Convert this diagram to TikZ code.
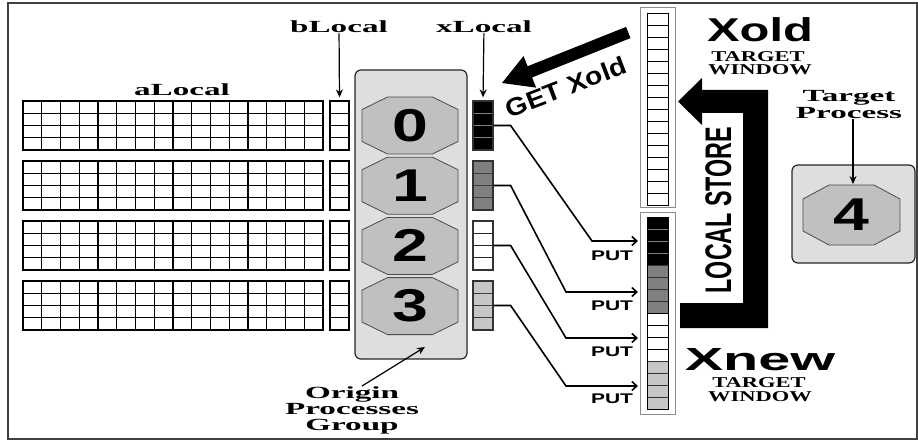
\documentclass[tikz,border=0pt]{standalone}
\usepackage{fontspec}
\setmainfont{Liberation Serif}
\setsansfont{Liberation Sans}
\usetikzlibrary{arrows.meta}
\usetikzlibrary{positioning}

\definecolor{boxgray}{RGB}{221,223,223}
\definecolor{octgray}{RGB}{192,192,192}
\definecolor{midgray}{RGB}{128,128,128}
\definecolor{cellgray}{RGB}{198,198,198}

\newcommand{\lbl}[1]{\scalebox{1.95}[1]{#1}}
\newcommand{\wlbl}[1]{\scalebox{1.5}[1]{#1}}

\begin{document}
\begin{tikzpicture}[x=1pt,y=-1pt,
  serif/.style={font=\fontsize{17}{17}\selectfont\bfseries,inner sep=0pt,anchor=base},
  small/.style={font=\fontsize{15}{15}\selectfont\bfseries,inner sep=0pt,anchor=base},
  cell/.style={draw=black,line width=1.25pt},
  col/.style={draw=black,line width=1.25pt,inner sep=0pt,minimum height=49pt},
  winframe/.style={draw=black!45,line width=1pt,inner sep=0pt,minimum width=35pt},
  grpbox/.style={draw=black!85,fill=boxgray,line width=1.2pt,rounded corners=6pt,inner sep=0pt},
  octo/.style={draw=black!70,fill=octgray,line width=0.8pt},
  digit/.style={font=\sffamily\bfseries\fontsize{46}{46}\selectfont,inner sep=0pt},
  ptr/.style={line width=1.2pt,-{Stealth[length=8pt,width=7pt]}},
  putline/.style={line width=1.6pt,-{Straight Barb[length=5pt,width=9pt]}},
  putlbl/.style={font=\sffamily\bfseries\fontsize{14}{14}\selectfont,inner sep=0pt,anchor=base}]
\useasboundingbox (0,0) rectangle (918,441);
\draw[line width=1.4pt,black!75] (8,3) rectangle (917,439);

% aLocal and bLocal
\foreach \i/\yt in {0/101,1/161,2/221,3/281}{
  \draw[cell] (23,\yt) rectangle (323,\yt+49);
  \foreach \cc in {1,...,15} \draw[cell] (23+18.75*\cc,\yt) -- ++(0,49);
  \foreach \rr in {1,2,3} \draw[cell] (23,\yt+12.25*\rr) -- ++(300,0);
  \node[col,minimum width=19pt] (b\i) at (339.5,\yt+24.5) {};
  \foreach \rr in {1,2,3} \draw[cell] (330,\yt+12.25*\rr) -- ++(19,0);
}
\node[serif] (alabel) at (182,96) {\lbl{aLocal}};
\node[serif] (blabel) at (339,33) {\lbl{bLocal}};
\draw[ptr,shorten >=3pt] (blabel) -- (b0.north);

% origin group
\node[grpbox,minimum width=112pt,minimum height=289pt] (grp) at (411,214.5) {};
\foreach \d/\yc in {0/125.5,1/185.7,2/245.9,3/306.1}{
  \begin{scope}[shift={(410,\yc)}]
  \draw[octo] (-22.5,-28.5) -- (22.5,-28.5) -- (48,-16) -- (48,16) -- (22.5,28.5) -- (-22.5,28.5) -- (-48,16) -- (-48,-16) -- cycle;
  \node[digit] (o\d) at (0,0) {\scalebox{1.4}[1]{\d}};
  \end{scope}
}
\node[serif] (org1) at (352,398) {\lbl{Origin}};
\node[serif] (org2) at (352,414) {\lbl{Processes}};
\node[serif] (org3) at (352,430) {\lbl{Group}};
\coordinate (gtip) at (425,347);
\draw[ptr] ([xshift=10pt]org1.north) -- (gtip);

% xLocal
\foreach \i/\yt/\fc/\sc in {0/101/black/gray,1/161/midgray/black!75,2/221/white/black!85,3/281/cellgray/black!75}{
  \node[col,minimum width=20pt,fill=\fc,draw=black!80] (x\i) at (483,\yt+24.5) {};
  \foreach \rr in {1,2,3} \draw[line width=1pt,draw=\sc] (473.6,\yt+12.25*\rr) -- ++(18.8,0);
}
\node[serif] (xlabel) at (484,33) {\lbl{xLocal}};
\draw[ptr,shorten >=3pt] (xlabel) -- (x0.north);

% windows
\node[winframe,minimum height=199pt] (xold) at (657.5,107.5) {};
\foreach \k in {0,...,15} \draw[cell,line width=0.9pt] (647,13+12*\k) rectangle ++(21,12);
\node[winframe,minimum height=202pt] (xnew) at (657.5,313) {};
\foreach \g/\fc/\sc in {0/black/gray,1/midgray/black!80,2/white/black,3/cellgray/black!80}
  \foreach \k in {0,...,3} \draw[line width=0.9pt,draw=\sc,fill=\fc] (647,217+48*\g+12*\k) rectangle ++(21,12);
\draw[line width=0.9pt] (647,217) rectangle (668,409);

\node[font=\sffamily\bfseries\fontsize{33}{33}\selectfont,inner sep=0pt,anchor=base] (xoldlbl) at (760,42) {\scalebox{1.48}[1]{Xold}};
\node[small] (xoldt) at (758,62) {\wlbl{TARGET}};
\node[small] (xoldw) at (760,75) {\wlbl{WINDOW}};
\node[font=\sffamily\bfseries\fontsize{32}{32}\selectfont,inner sep=0pt,anchor=base] (xnewlbl) at (760,370) {\scalebox{1.8}[1]{Xnew}};
\node[small] (xnewt) at (759,387) {\wlbl{TARGET}};
\node[small] (xneww) at (760,401) {\wlbl{WINDOW}};

% get
\begin{scope}[shift={(502,83)},rotate=21.8]
\fill (0,0) -- (30,-17) -- (30,-6) -- (136,-6) -- (136,6) -- (30,6) -- (30,17) -- cycle;
\end{scope}
\node[font=\sffamily\bfseries\fontsize{25}{25}\selectfont,inner sep=0pt,rotate=21] (getlbl) at (566,87) {\scalebox{1.13}[1]{GET Xold}};

% local store
\fill (680,303) -- (743,303) -- (743,113) -- (702,113) -- (702,125) -- (678,101.5) -- (702,78) -- (702,90) -- (768,90) -- (768,328) -- (680,328) -- cycle;
\node[font=\sffamily\bfseries\fontsize{37}{37}\selectfont,inner sep=0pt,rotate=90] (storelbl) at (718.5,210) {\scalebox{0.63}[1]{LOCAL STORE}};

% puts
\coordinate (put0) at (638,241);
\coordinate (put1) at (638,292);
\coordinate (put2) at (638,338);
\coordinate (put3) at (638,386);
\draw[putline] (x0.east) -- ++(17,0) -- (592,241) -- (put0);
\draw[putline] (x1.east) -- ++(17,0) -- (566,292) -- (put1);
\draw[putline] (x2.east) -- ++(17,0) -- (566,338) -- (put2);
\draw[putline] (x3.east) -- ++(17,0) -- (566,386) -- (put3);
\foreach \i/\yb in {0/260,1/310,2/356,3/403}
  \node[putlbl] (lput\i) at (612,\yb) {\scalebox{1.5}[1]{PUT}};

% target
\node[grpbox,minimum width=123pt,minimum height=98pt] (tbox) at (853.5,214) {};
\begin{scope}[shift={(851.5,215)}]
\draw[octo] (-22.5,-30) -- (22.5,-30) -- (48.5,-16) -- (48.5,16) -- (22.5,30) -- (-22.5,30) -- (-48.5,16) -- (-48.5,-16) -- cycle;
\node[digit] (o4) at (0,0) {\scalebox{1.4}[1]{4}};
\end{scope}
\node[serif] (tgt1) at (849,102) {\lbl{Target}};
\node[serif] (tgt2) at (849,119) {\lbl{Process}};
\coordinate (o4top) at (853,184);
\draw[ptr] (tgt2.south -| o4top) -- (o4top);
\end{tikzpicture}
\end{document}
